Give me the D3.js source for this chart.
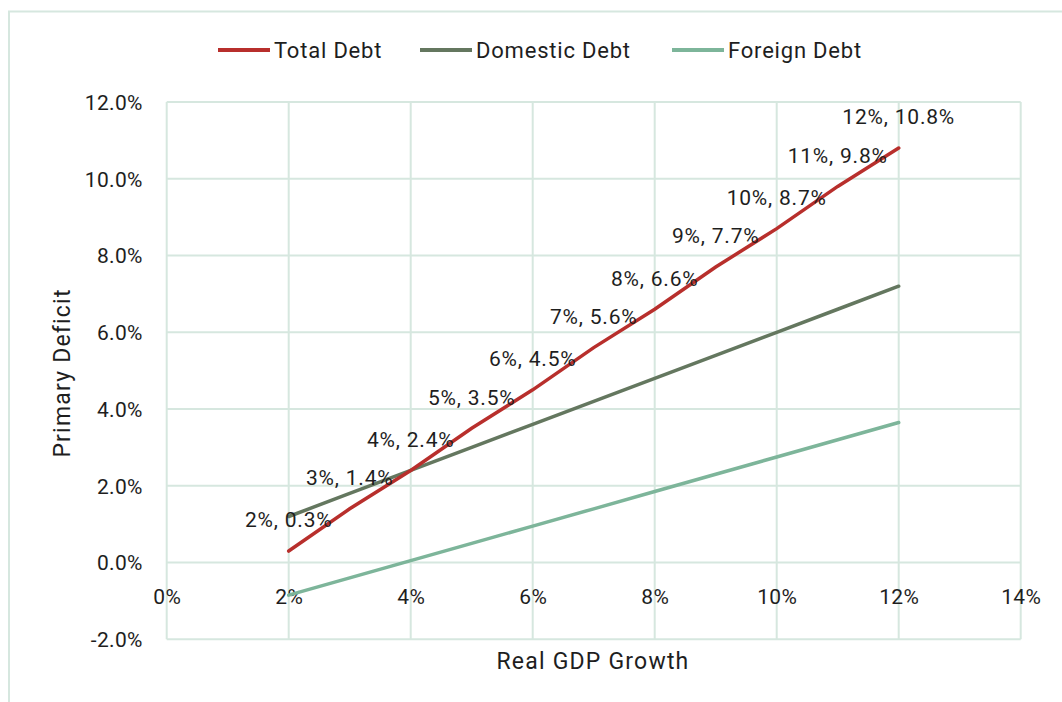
<!DOCTYPE html>
<html><head><meta charset="utf-8">
<script src="https://cdn.jsdelivr.net/npm/d3@7"></script>
<style>
html,body{margin:0;padding:0;background:#fff;}
svg text{font-family:Roboto,"Noto Sans",sans-serif;fill:#1e1e1e;}
</style></head>
<body>
<svg id="c" width="1062" height="702"></svg>
<script>
const growth = [2,3,4,5,6,7,8,9,10,11,12];
const totalDebt = [0.3,1.4,2.4,3.5,4.5,5.6,6.6,7.7,8.7,9.8,10.8];
const domesticDebt = [1.2,1.8,2.4,3.0,3.6,4.2,4.8,5.4,6.0,6.6,7.2];
const foreignDebt = [-0.85,-0.4,0.05,0.5,0.95,1.4,1.85,2.3,2.75,3.2,3.65];
const xTicks = [0,2,4,6,8,10,12,14];
const yTicks = [-2,0,2,4,6,8,10,12];
const seriesNames = ["Total Debt","Domestic Debt","Foreign Debt"];
const seriesColors = ["#b82f2c","#64775f","#7db59a"];

const svg = d3.select("#c");
const grid = "#d6e7df";
svg.append("path").attr("d","M9,702 V11.5 H1062").attr("fill","none").attr("stroke",grid).attr("stroke-width",2);

const x = d3.scaleLinear().domain([0,14]).range([166.7,1020.7]);
const y = d3.scaleLinear().domain([-2,12]).range([639.3,102]);

const g = svg.append("g");
g.selectAll("line.v").data(xTicks).join("line").attr("class","v")
 .attr("x1",d=>x(d)).attr("x2",d=>x(d)).attr("y1",y(12)).attr("y2",y(-2))
 .attr("stroke",grid).attr("stroke-width",2);
g.selectAll("line.h").data(yTicks).join("line").attr("class","h")
 .attr("x1",x(0)).attr("x2",x(14)).attr("y1",d=>y(d)).attr("y2",d=>y(d))
 .attr("stroke",grid).attr("stroke-width",2);

const yAxis = d3.axisLeft(y).tickValues(yTicks).tickFormat(d=>d.toFixed(1)+"%").tickSize(0).tickPadding(24);
const ya = svg.append("g").attr("transform",`translate(${x(0)},0)`).call(yAxis);
ya.select(".domain").remove();
ya.selectAll("text").style("font-size","21px").style("letter-spacing","0.3px").attr("fill","#1e1e1e").attr("dy","0.35em");

const xAxis = d3.axisBottom(x).tickValues(xTicks).tickFormat(d=>d+"%").tickSize(0).tickPadding(0);
const xa = svg.append("g").attr("transform",`translate(0,${y(0)})`).call(xAxis);
xa.select(".domain").remove();
xa.selectAll("text").style("font-size","21px").style("letter-spacing","0.3px").attr("fill","#1e1e1e").attr("dy",null).attr("y",41);

const dataSets = [totalDebt, domesticDebt, foreignDebt];
const line = d3.line().x((d,i)=>x(growth[i])).y(d=>y(d));
[2,1,0].forEach(k=>{
  svg.append("path").datum(dataSets[k]).attr("d",line).attr("fill","none")
   .attr("stroke",seriesColors[k]).attr("stroke-width",3.5).attr("stroke-linecap","round");
});

svg.selectAll("text.lbl").data(totalDebt).join("text").attr("class","lbl")
 .attr("x",(d,i)=>x(growth[i])).attr("y",d=>y(d)-31).attr("dy","0.35em")
 .attr("text-anchor","middle").style("font-size","21px").style("letter-spacing","0.8px")
 .text((d,i)=>growth[i]+"%, "+d.toFixed(1)+"%");

const legX = [218,420,672];
seriesNames.forEach((n,k)=>{
  svg.append("line").attr("x1",legX[k]).attr("x2",legX[k]+52).attr("y1",50).attr("y2",50)
   .attr("stroke",seriesColors[k]).attr("stroke-width",4);
  svg.append("text").attr("x",legX[k]+56).attr("y",50).attr("dy","0.35em").style("font-size","22px").style("letter-spacing","0.8px").text(n);
});

svg.append("text").attr("x",593).attr("y",661).attr("dy","0.35em").attr("text-anchor","middle").style("font-size","23px").style("letter-spacing","1.2px").text("Real GDP Growth");
svg.append("text").attr("transform","translate(62,373) rotate(-90)").attr("dy","0.35em").attr("text-anchor","middle").style("font-size","23px").style("letter-spacing","1.2px").text("Primary Deficit");
</script>
</body></html>
